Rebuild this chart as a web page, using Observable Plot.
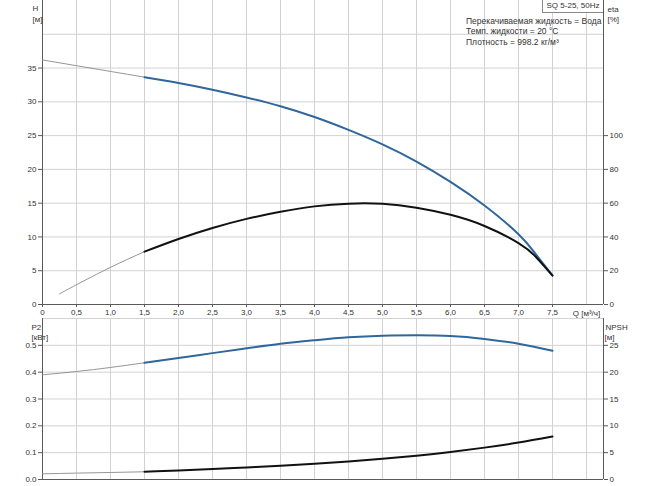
<!DOCTYPE html>
<html><head><meta charset="utf-8">
<script src="https://cdn.jsdelivr.net/npm/d3@7"></script>
<script src="https://cdn.jsdelivr.net/npm/@observablehq/plot@0.6"></script>
<style>
body{margin:0;background:#fff;font-family:"Liberation Sans",Arial,sans-serif;}
#wrap{position:relative;width:650px;height:486px;overflow:hidden;background:#fff}
.abs{position:absolute}
.info{position:absolute;left:466px;top:16px;font-size:8.5px;line-height:10.3px;color:#333;white-space:nowrap}
.title{position:absolute;left:542px;top:-1px;width:60px;height:12px;border:1px solid #888;border-right:none;font-size:8px;line-height:12px;text-align:center;color:#333;white-space:nowrap;background:#fff}
</style>
</head><body><div id="wrap"></div>
<script>
// ---- data ----
const headQ   = [0, 0.5, 1.0, 1.5, 2.0, 2.5, 3.0, 3.5, 4.0, 4.5, 5.0, 5.5, 6.0, 6.5, 7.0, 7.25, 7.5];
const headM   = [36.2, 35.35, 34.5, 33.65, 32.8, 31.8, 30.65, 29.35, 27.75, 25.85, 23.7, 21.15, 18.15, 14.65, 10.4, 7.5, 4.3];
const etaQ    = [0.25, 0.5, 1.0, 1.5, 2.0, 2.5, 3.0, 3.5, 4.0, 4.5, 5.0, 5.5, 6.0, 6.5, 7.0, 7.25, 7.5];
const etaPct  = [6.3, 11.7, 22, 31.3, 38.8, 45.3, 50.7, 54.9, 58.1, 59.7, 59.6, 57.3, 53.1, 46.5, 36.4, 28.4, 17.1];
const powQ    = [0, 0.5, 1.0, 1.5, 2.0, 2.5, 3.0, 3.5, 4.0, 4.5, 5.0, 5.5, 6.0, 6.5, 7.0, 7.5];
const p2kW    = [0.39, 0.4025, 0.4175, 0.435, 0.4525, 0.471, 0.489, 0.506, 0.519, 0.53, 0.536, 0.5375, 0.535, 0.524, 0.506, 0.48];
const npshQ   = [0, 0.5, 1.0, 1.5, 2.0, 2.5, 3.0, 3.5, 4.0, 4.5, 5.0, 5.5, 6.0, 6.5, 7.0, 7.5];
const npshM   = [1.06, 1.19, 1.31, 1.44, 1.69, 1.94, 2.25, 2.56, 2.94, 3.375, 3.875, 4.44, 5.125, 5.94, 6.875, 8.0];

const qTicks    = [0, 0.5, 1.0, 1.5, 2.0, 2.5, 3.0, 3.5, 4.0, 4.5, 5.0, 5.5, 6.0, 6.5, 7.0, 7.5];
const qGrid     = [0.5, 1.0, 1.5, 2.0, 2.5, 3.0, 3.5, 4.0, 4.5, 5.0, 5.5, 6.0, 6.5, 7.0, 7.5, 8.0];
const hTicks    = [0, 5, 10, 15, 20, 25, 30, 35];
const hGrid     = [5, 10, 15, 20, 25, 30, 35, 40];
const etaTicks  = [0, 20, 40, 60, 80, 100];
const p2Ticks   = [0, 0.1, 0.2, 0.3, 0.4, 0.5];
const p2Grid    = [0.1, 0.2, 0.3, 0.4, 0.5, 0.6];
const npshTicks = [0, 5, 10, 15, 20, 25];
const infoLines = ["Перекачиваемая жидкость = Вода", "Темп. жидкости = 20 °C", "Плотность = 998.2 кг/м³"];
const titleText = "SQ 5-25, 50Hz";

// ---- helpers ----
const rows = (xs, ys) => xs.map((q, i) => ({q, v: ys[i]}));
const thin = r => r.filter(d => d.q <= 1.5);
const thick = r => r.filter(d => d.q >= 1.5);
const headRows = rows(headQ, headM), etaRows = rows(etaQ, etaPct), p2Rows = rows(powQ, p2kW), npshRows = rows(npshQ, npshM);

const BLUE = "#2f679c", BLACK = "#111", THIN = "#8a8a8a", GRID = "#d2d2d2", AX = "#5a5a5a";
const XMAX = 8.25;
const CURVE = "natural";
const font = {fontFamily: "'Liberation Sans', Arial, sans-serif", fontSize: "8px", color: "#333", background: "transparent", overflow: "visible"};
const qFmt = d => d === 0 ? "0" : d.toFixed(1).replace(".", ",");

const topPlot = Plot.plot({
  width: 650, height: 318, marginLeft: 42, marginRight: 47, marginTop: 0, marginBottom: 14,
  x: {domain: [0, XMAX]}, y: {domain: [0, 45]},
  style: font,
  marks: [
    Plot.gridX(qGrid, {stroke: GRID, strokeOpacity: 1}),
    Plot.gridY(hGrid, {stroke: GRID, strokeOpacity: 1}),
    Plot.axisX(qTicks, {tickFormat: qFmt, tickSize: 3, tickPadding: 2, stroke: AX, label: null}),
    Plot.axisY(hTicks, {tickSize: 4, tickPadding: 2, stroke: AX, label: null}),
    Plot.axisY(etaTicks.map(e => e / 4), {anchor: "right", tickFormat: d => String(Math.round(d * 4)), tickSize: 4, tickPadding: 2, stroke: AX, label: null}),
    Plot.ruleY([0], {stroke: AX}),
    Plot.ruleX([0, XMAX], {stroke: AX}),
    Plot.line(thin(headRows), {x: "q", y: "v", curve: CURVE, stroke: THIN, strokeWidth: 0.9}),
    Plot.line(thick(headRows), {x: "q", y: "v", curve: CURVE, stroke: BLUE, strokeWidth: 2}),
    Plot.line(thin(etaRows), {x: "q", y: d => d.v / 4, curve: CURVE, stroke: THIN, strokeWidth: 0.9}),
    Plot.line(thick(etaRows), {x: "q", y: d => d.v / 4, curve: CURVE, stroke: BLACK, strokeWidth: 2}),
    Plot.text(["Q [м³/ч]"], {x: 8.0, y: 0, dy: 9, fill: "#333", fontSize: 8}),
    Plot.text(["H"], {frameAnchor: "top-left", dx: -10, dy: 5, fill: "#333", fontSize: 8}),
    Plot.text(["[м]"], {frameAnchor: "top-left", dx: -10, dy: 16, fill: "#333", fontSize: 8}),
    Plot.text(["eta"], {frameAnchor: "top-right", dx: 4, dy: 6, textAnchor: "start", fill: "#333", fontSize: 8}),
    Plot.text(["[%]"], {frameAnchor: "top-right", dx: 4, dy: 16, textAnchor: "start", fill: "#333", fontSize: 8})
  ]
});

const botPlot = Plot.plot({
  width: 650, height: 168, marginLeft: 42, marginRight: 47, marginTop: 0, marginBottom: 7,
  x: {domain: [0, XMAX], axis: null}, y: {domain: [0, 0.6], axis: null},
  style: font,
  marks: [
    Plot.gridX(qGrid, {stroke: GRID, strokeOpacity: 1}),
    Plot.gridY(p2Grid, {stroke: GRID, strokeOpacity: 1}),
    Plot.axisY(p2Ticks, {tickFormat: d => d.toFixed(1), tickSize: 4, tickPadding: 2, stroke: AX, label: null}),
    Plot.axisY(npshTicks.map(n => n / 50), {anchor: "right", tickFormat: d => String(Math.round(d * 50)), tickSize: 4, tickPadding: 2, stroke: AX, label: null}),
    Plot.ruleY([0], {stroke: AX}),
    Plot.ruleX([0, XMAX], {stroke: AX}),
    Plot.line(thin(p2Rows), {x: "q", y: "v", curve: CURVE, stroke: THIN, strokeWidth: 0.9}),
    Plot.line(thick(p2Rows), {x: "q", y: "v", curve: CURVE, stroke: BLUE, strokeWidth: 2}),
    Plot.line(thin(npshRows), {x: "q", y: d => d.v / 50, curve: CURVE, stroke: THIN, strokeWidth: 0.9}),
    Plot.line(thick(npshRows), {x: "q", y: d => d.v / 50, curve: CURVE, stroke: BLACK, strokeWidth: 2}),
    Plot.text(["P2"], {frameAnchor: "top-left", dx: -11, dy: 6, fill: "#333", fontSize: 8}),
    Plot.text(["[кВт]"], {frameAnchor: "top-left", dx: -11, dy: 16, fill: "#333", fontSize: 8}),
    Plot.text(["NPSH"], {frameAnchor: "top-right", dx: 2, dy: 6, textAnchor: "start", fill: "#333", fontSize: 8}),
    Plot.text(["[м]"], {frameAnchor: "top-right", dx: 11, dy: 16, fill: "#333", fontSize: 8})
  ]
});

const wrap = document.getElementById("wrap");
topPlot.classList.add("abs"); topPlot.style.left = "0px"; topPlot.style.top = "0px";
botPlot.classList.add("abs"); botPlot.style.left = "0px"; botPlot.style.top = "318px";
wrap.appendChild(topPlot);
wrap.appendChild(botPlot);

const title = document.createElement("div");
title.className = "title"; title.textContent = titleText;
wrap.appendChild(title);
const info = document.createElement("div");
info.className = "info";
infoLines.forEach(t => { const d = document.createElement("div"); d.textContent = t; info.appendChild(d); });
wrap.appendChild(info);
</script>
</body></html>
